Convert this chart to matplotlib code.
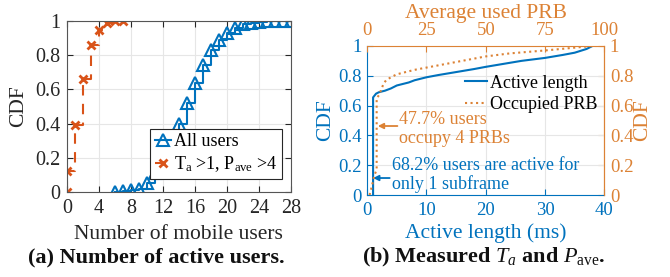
import matplotlib
matplotlib.use('Agg')
import matplotlib.pyplot as plt
import numpy as np

plt.rcParams['font.family'] = ['Liberation Serif', 'DejaVu Serif']
plt.rcParams['mathtext.fontset'] = 'custom'
plt.rcParams['mathtext.rm'] = 'Liberation Serif'
plt.rcParams['mathtext.it'] = 'Liberation Serif:italic'
plt.rcParams['mathtext.bf'] = 'Liberation Serif:bold'

# (a) number of active users
users_x = list(range(6, 29))
users_cdf = [0.0, 0.005, 0.01, 0.02, 0.05, 0.11, 0.18, 0.28, 0.40, 0.52, 0.64,
             0.74, 0.83, 0.89, 0.93, 0.96, 0.98, 0.99, 0.995, 1.0, 1.0, 1.0, 1.0]
filt_x = [0, 0, 1, 2, 3, 4, 5, 6, 7]
filt_cdf = [0.0, 0.12, 0.39, 0.66, 0.86, 0.95, 0.99, 1.0, 1.0]

# (b) active length (ms) and occupied PRB
act_x = [1, 1, 1.5, 2, 3, 4, 5, 6, 7, 8, 9, 10, 12, 15, 18, 20, 23, 26, 30, 33, 35, 37, 38]
act_cdf = [0.0, 0.655, 0.68, 0.69, 0.70, 0.715, 0.735, 0.745, 0.755, 0.77, 0.78, 0.79,
           0.805, 0.825, 0.845, 0.86, 0.88, 0.90, 0.92, 0.94, 0.955, 0.98, 1.0]
prb_x = [1, 2, 3, 4, 4, 5, 6, 7, 8, 10, 12.5, 15, 20, 25, 30, 40, 50, 60, 75, 85, 95, 100]
prb_cdf = [0.0, 0.06, 0.13, 0.17, 0.65, 0.67, 0.71, 0.75, 0.77, 0.79, 0.81, 0.82, 0.84,
           0.855, 0.87, 0.90, 0.93, 0.95, 0.97, 0.985, 1.0, 1.0]

blue = '#0072BD'
red = '#D95319'
orange = '#DC8235'
dark = '#262626'
fs_lab = 15.5
fs_tick_a = 14.5
fs_tick_b = 13.5
fs_leg = 13

fig = plt.figure(figsize=(6.7, 2.77), dpi=100)

# ---------- left panel ----------
ax = fig.add_axes([0.1, 0.307, 0.334, 0.617])
ax.plot(users_x, users_cdf, drawstyle='steps-post', color=blue, lw=1.5,
        marker='^', ms=8, mfc='none', mew=1.5, label='All users')
ax.plot(filt_x, filt_cdf, drawstyle='steps-post', color=red, lw=1.5, ls=(0, (5, 4)),
        marker='x', ms=6, mew=2, label=r'T$_{\rm a}$ >1, P$_{\rm ave}$ >4')
ax.set_xlim(0, 28)
ax.set_ylim(0, 1)
ax.set_xticks(range(0, 29, 4))
ax.set_yticks([0, 0.2, 0.4, 0.6, 0.8, 1])
ax.set_yticklabels(['0', '0.2', '0.4', '0.6', '0.8', '1'])
ax.grid(True, color='#e6e6e6', lw=0.8)
ax.set_axisbelow(True)
ax.tick_params(direction='in', labelsize=fs_tick_a, colors=dark, top=True, right=True,
               length=4)
ax.tick_params(axis='x', pad=5)
ax.tick_params(axis='y', pad=5)
for s in ax.spines.values():
    s.set_color('#555555')
ax.set_xlabel('Number of mobile users', fontsize=fs_lab, color=dark, labelpad=5)
ax.set_ylabel('CDF', fontsize=fs_lab, color=dark)
ax.yaxis.set_label_coords(-0.175, 0.5)
leg = ax.legend(loc='lower right', bbox_to_anchor=(0.96, 0.076), borderaxespad=0,
                fontsize=fs_leg, handlelength=0.9, handletextpad=0.15, borderpad=0.25,
                labelspacing=0.25, fancybox=False, edgecolor=dark, framealpha=1)
leg.get_frame().set_linewidth(0.8)

# ---------- right panel ----------
bx = fig.add_axes([0.548, 0.296, 0.354, 0.538])
bx2 = bx.twiny()
l1, = bx.plot(act_x, act_cdf, color=blue, lw=1.5, label='Active length')
l2, = bx2.plot(prb_x, prb_cdf, color=orange, lw=1.5, ls=':', label='Occupied PRB')
bx.set_xlim(0, 40)
bx.set_ylim(0, 1)
bx2.set_xlim(0, 100)
bx.set_xticks([0, 10, 20, 30, 40])
bx2.set_xticks([0, 25, 50, 75, 100])
yt = [0, 0.2, 0.4, 0.6, 0.8, 1]
ytl = ['0', '0.2', '0.4', '0.6', '0.8', '1']
bx.set_yticks(yt)
bx.set_yticklabels(ytl)
bx.grid(True, color='#e6e6e6', lw=0.8)
bx.set_axisbelow(True)
bx.tick_params(direction='in', labelsize=fs_tick_b, colors=blue, length=4, pad=4)
bx.tick_params(axis='x', pad=5)
bx2.tick_params(direction='in', labelsize=fs_tick_b, colors=orange, length=4, pad=5)
bx.spines['top'].set_visible(False)
bx.spines['right'].set_visible(False)
bx.spines['bottom'].set_color(blue)
bx.spines['left'].set_color(blue)
bx2.spines['bottom'].set_visible(False)
bx2.spines['left'].set_visible(False)
bx2.spines['top'].set_color(orange)
bx2.spines['right'].set_color(orange)

by = bx.secondary_yaxis('right')
by.set_yticks(yt)
by.set_yticklabels(ytl)
by.tick_params(direction='in', labelsize=fs_tick_b, colors=orange, length=4, pad=4)
by.spines['right'].set_color(orange)
fig.text(643 / 670, 1 - 120.5 / 277, 'CDF', fontsize=fs_lab, color=orange,
         rotation=90, ha='center', va='center')

bx.set_xlabel('Active length (ms)', fontsize=fs_lab, color=blue, labelpad=3)
bx.set_ylabel('CDF', fontsize=fs_lab, color=blue)
bx.yaxis.set_label_coords(-0.135, 0.5)
bx2.set_xlabel('Average used PRB', fontsize=fs_lab, color=orange, labelpad=3)

bx2.legend(handles=[l1, l2], loc='upper right', bbox_to_anchor=(1.0, 0.855),
           frameon=False, fontsize=fs_leg, handlelength=1.2, handletextpad=0.15,
           labelspacing=0.25, borderaxespad=0)

bx.annotate('', xy=(1.8, 0.463), xytext=(5.1, 0.463),
            arrowprops=dict(arrowstyle='-|>', color=orange, lw=1.3,
                            shrinkA=0, shrinkB=0, mutation_scale=8))
bx.text(5.3, 0.443, '47.7% users\noccupy 4 PRBs', fontsize=fs_leg, color=orange,
        va='center', ha='left', linespacing=1.15)
bx.annotate('', xy=(1.0, 0.114), xytext=(3.8, 0.114),
            arrowprops=dict(arrowstyle='-|>', color=blue, lw=1.3,
                            shrinkA=0, shrinkB=0, mutation_scale=8))
bx.text(4.2, 0.134, '68.2% users are active for\nonly 1 subframe', fontsize=fs_leg,
        color=blue, va='center', ha='left', linespacing=1.05)

fig.text(0.234, 0.069, '(a) Number of active users.', fontsize=16,
         fontweight='bold', ha='center', va='center', color='#111111')
fig.text(0.722, 0.069, r'(b) Measured $T_a$ and $P_{\rm ave}$.', fontsize=16,
         fontweight='bold', ha='center', va='center', color='#111111')

fig.savefig('out.png', dpi=100)
